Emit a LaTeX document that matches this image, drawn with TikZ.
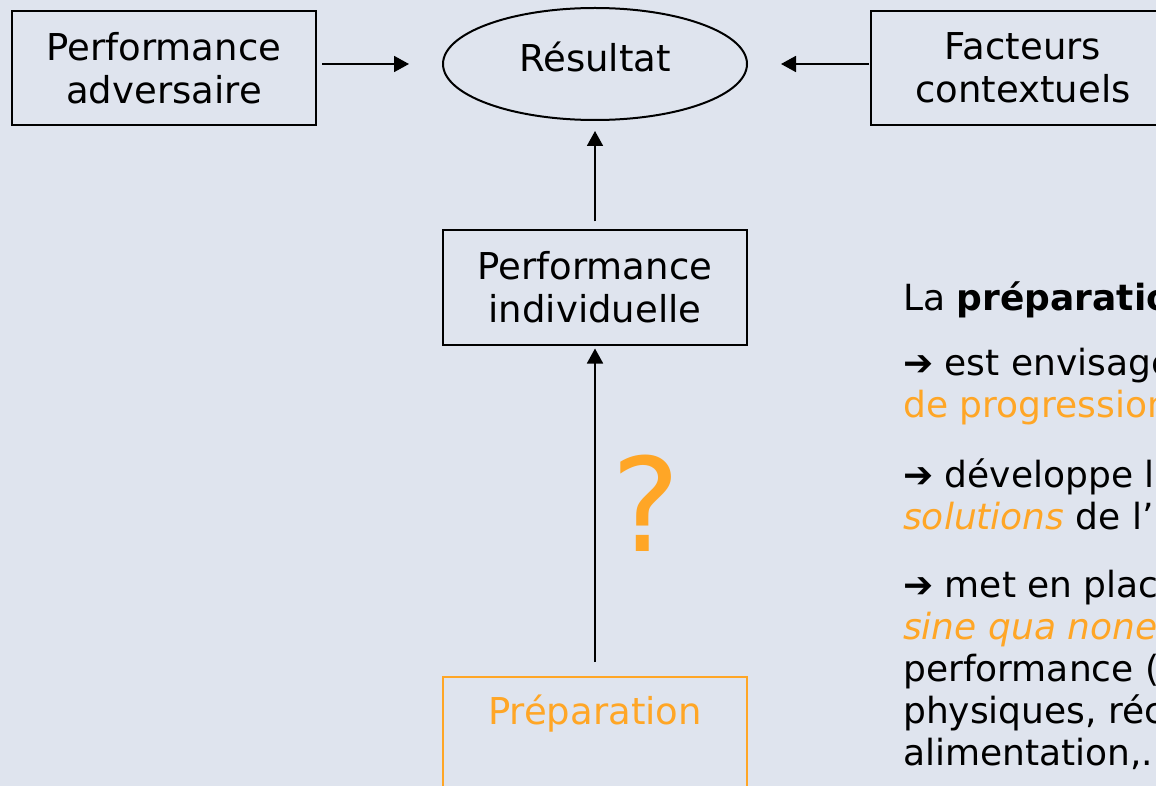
\documentclass[tikz,border=0pt]{standalone}
\usepackage{fontspec}
\setmainfont{DejaVu Sans}
\usetikzlibrary{arrows.meta, shapes.geometric}

\definecolor{slidebg}{RGB}{223,228,238}
\definecolor{prepor}{RGB}{255,166,38}
\newcommand{\itemarrow}{\textbf{➔}}

\begin{document}
\begin{tikzpicture}[x=1pt, y=-1pt,
    boxnode/.style  ={draw=black, line width=2pt, minimum width=304pt, minimum height=114pt,
                      align=center, font=\fontsize{37}{43}\selectfont, inner sep=0pt},
    resnode/.style  ={draw=black, line width=2pt, ellipse, minimum width=304pt, minimum height=112pt,
                      inner sep=0pt, font=\fontsize{37}{43}\selectfont, text height=30pt, text depth=14pt},
    conn/.style     ={-{Triangle[length=15pt, width=16pt]}, line width=1.8pt, black},
    bodytext/.style ={anchor=base west, align=left, inner sep=0pt, font=\fontsize{36}{42}\selectfont}
]

% ---------- page ----------
\useasboundingbox (0,0) rectangle (1156,786);
\fill[slidebg] (0,0) rectangle (1156,786);
\clip (0,0) rectangle (1156,786);

% ---------- chain of nodes ----------
\node[boxnode] (adv) at (164,68) {Performance\\adversaire};
\node[resnode] (res) at (595,64) {Résultat};
\node[boxnode] (ctx) at (1023,68) {Facteurs\\contextuels};
\node[boxnode] (indiv) at (595,287.5) {Performance\\individuelle};
\node[boxnode, draw=prepor, text=prepor, anchor=north, minimum height=150pt,
      text height=47pt, text depth=103pt] (prep) at (595,676) {Préparation};
\node[text=prepor, font=\fontsize{130}{130}\selectfont, inner sep=0pt] (qmark) at (646,503) {?};

% ---------- connectors ----------
\draw[conn, shorten <=5pt, shorten >=33pt] (res.west -| adv.east) -- (res.west);
\draw[conn, shorten <=1pt, shorten >=33pt] (res.east -| ctx.west) -- (res.east);
\draw[conn, shorten <=8pt, shorten >=10pt] (indiv.north) -- (res.south);
\draw[conn, shorten <=14pt, shorten >=3pt] (prep.north) -- (indiv.south);

% ---------- text on the right (base = last line) ----------
\node[bodytext] (intro) at (903,310) {La \textbf{préparation}};
\node[bodytext] (item1) at (903,417)
    {\itemarrow{} est envisagée\\\textcolor{prepor}{de progression}};
\node[bodytext] (item2) at (903,529)
    {\itemarrow{} développe les\\\textcolor{prepor}{\itshape solutions} de l'“};
\node[bodytext] (item3) at (903,765)
    {\itemarrow{} met en place\\\textcolor{prepor}{\itshape sine qua none}\\performance (\\physiques, récupération\\alimentation,...};

\end{tikzpicture}
\end{document}
